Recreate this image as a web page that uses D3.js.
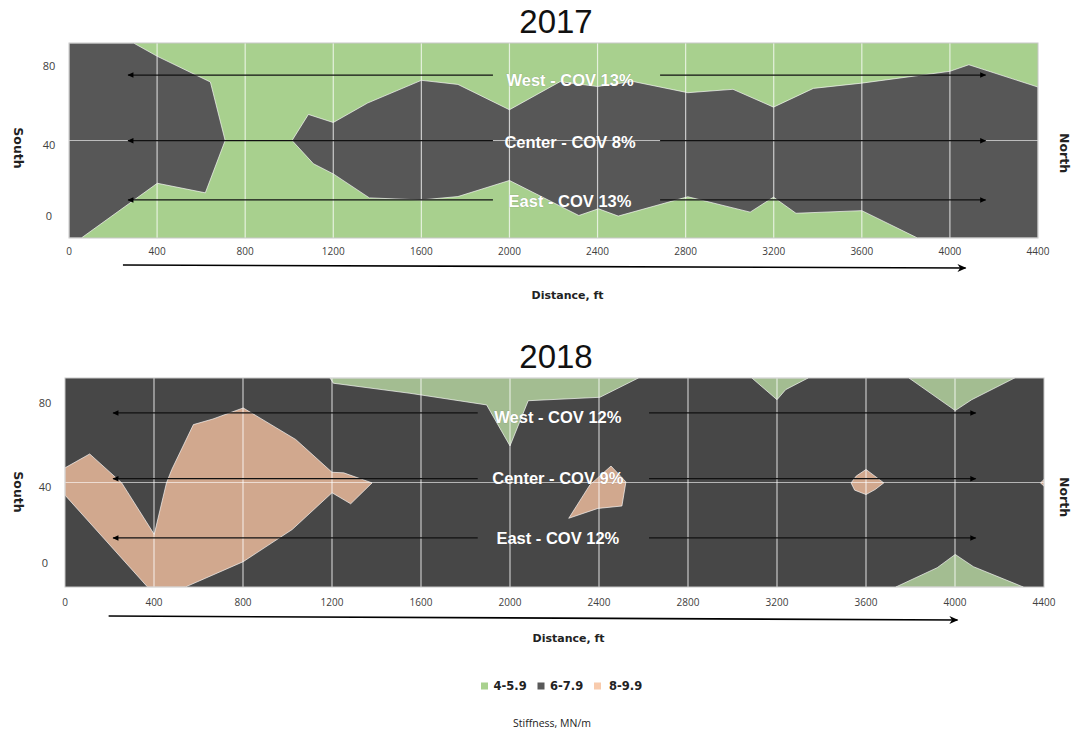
<!DOCTYPE html>
<html>
<head>
<meta charset="utf-8">
<script src="https://cdn.jsdelivr.net/npm/d3@7"></script>
<style>
  body { margin: 0; background: #fff; }
  text { font-family: "Open Sans", sans-serif; }
</style>
</head>
<body>
<svg id="chart" width="1078" height="732"></svg>
<script>
// --- data (distance in ft, transverse position in chart units) ---
var xTicks = [0, 400, 800, 1200, 1600, 2000, 2400, 2800, 3200, 3600, 4000, 4400];
var yTicks = [0, 40, 80];
var years = ['2017', '2018'];

var lanes2017 = ['West - COV 13%', 'Center - COV 8%', 'East - COV 13%'];
var lanes2018 = ['West - COV 12%', 'Center - COV 9%', 'East - COV 12%'];
var laneArrowY2017 = [74.9, 39.9, 8.3];
var laneArrowY2018 = [74.6, 41.9, 12.4];
var laneLabelY2017 = [72.3, 39.3, 7.9];
var laneLabelY2018 = [72.7, 42.2, 12.4];
var arrowLeft2017 = [1925, 268];
var arrowRight2017 = [2684, 4162];
var arrowLeft2018 = [1855, 216];
var arrowRight2018 = [2625, 4093];
var distArrow2017 = [245, 4071];
var distArrow2018 = [196, 4011];

var classes = ['4-5.9', '6-7.9', '8-9.9'];

// 2017: background class 4-5.9, zones of 6-7.9
var zones2017Mid = [
  [[0, 92], [293, 92], [401, 84.9], [642, 71.2], [709, 40], [619, 12.1], [401, 17.2], [56, -12], [0, -12]],
  [[1013, 40], [1087, 53.9], [1200, 49.6], [1356, 60], [1600, 72.1], [1766, 69.9], [2000, 56.4],
   [2230, 71.4], [2400, 68.8], [2560, 71.5], [2810, 65.5], [3015, 67.3], [3199, 57.8], [3380, 67.8],
   [3600, 70.6], [4000, 76.9], [4086, 80.4], [4400, 68.5], [4400, -12], [3853, -12], [3600, 2.6],
   [3301, 1.2], [3199, 9.8], [3093, 1.8], [2810, 10], [2494, -0.3], [2404, 3.6], [2315, 0],
   [2000, 18.7], [1766, 10.1], [1600, 8.3], [1364, 9.4], [1200, 22.2], [1110, 27.6]]
];

// 2018: background class 6-7.9, zones of 4-5.9 and 8-9.9
var zones2018Low = [
  [[1191, 92], [1206, 89.4], [1550, 84.4], [1895, 78.6], [2000, 58.2], [2082, 80.7], [2404, 82.4], [2577, 92]],
  [[3087, 92], [3200, 81.2], [3239, 86.2], [3340, 92]],
  [[3793, 92], [4001, 75.8], [4075, 81.2], [4268, 92]],
  [[3734, -12], [3920, -2.4], [4001, 4.2], [4083, -1.9], [4307, -12]]
];
var zones2018High = [
  [[0, 47.3], [111, 54.2], [255, 39.8], [401, 14.2], [456, 39.8], [480, 46.5], [577, 68.8], [665, 71.6],
   [801, 77.1], [1037, 61.4], [1200, 45.1], [1253, 44.8], [1380, 39.8], [1284, 29.4], [1200, 34.9],
   [1021, 16.6], [801, 0.6], [541, -12], [371, -12], [0, 33.7]],
  [[2264, 22.2], [2359, 38.8], [2454, 48.2], [2521, 40.3], [2503, 28.3], [2395, 27.1]],
  [[3600, 46.5], [3680, 39.8], [3641, 36.5], [3600, 34], [3549, 36.2], [3533, 39.8], [3556, 43.2]],
  [[4400, 41.5], [4384, 39.8], [4400, 38.2]]
];

var svg = d3.select('#chart');
var defs = svg.append('defs');

defs.append('marker').attr('id', 'head')
  .attr('viewBox', '0 0 10 10').attr('refX', 9).attr('refY', 5)
  .attr('markerWidth', 7).attr('markerHeight', 6).attr('markerUnits', 'userSpaceOnUse')
  .attr('orient', 'auto')
  .append('path').attr('d', 'M0,0.5L10,5L0,9.5Z').attr('fill', '#000');

defs.append('marker').attr('id', 'head2')
  .attr('viewBox', '0 0 10 10').attr('refX', 9).attr('refY', 5)
  .attr('markerWidth', 12).attr('markerHeight', 9).attr('markerUnits', 'userSpaceOnUse')
  .attr('orient', 'auto')
  .append('path').attr('d', 'M0,0.5L10,5L0,9.5L3,5Z').attr('fill', '#000');

var panels = [
  {
    year: years[0], left: 69, right: 1038, top: 43, bottom: 238, titleY: 33,
    bg: '#a8d08e',
    zones: zones2017Mid.map(function(p) { return {pts: p, color: '#575757'}; }),
    lanes: lanes2017, arrowY: laneArrowY2017, labelY: laneLabelY2017, labelX: 2275,
    arrowL: arrowLeft2017, arrowR: arrowRight2017, dist: distArrow2017,
    tickDy: 13, distDy: [27, 30], titleDy: 57, sideY: 148, yLabelX: 49
  },
  {
    year: years[1], left: 65, right: 1044, top: 378, bottom: 587, titleY: 368,
    bg: '#474747',
    zones: zones2018Low.map(function(p) { return {pts: p, color: '#a3bd91'}; })
      .concat(zones2018High.map(function(p) { return {pts: p, color: '#d1a88e'}; })),
    lanes: lanes2018, arrowY: laneArrowY2018, labelY: laneLabelY2018, labelX: 2215,
    arrowL: arrowLeft2018, arrowR: arrowRight2018, dist: distArrow2018,
    tickDy: 15, distDy: [29, 33], titleDy: 51, sideY: 492, yLabelX: 45
  }
];

panels.forEach(drawPanel);

function drawPanel(p, i) {
  var x = d3.scaleLinear().domain([0, 4400]).range([p.left, p.right]);
  var y = d3.scaleLinear().domain([-12, 92]).range([p.bottom, p.top]);
  var line = d3.line().x(function(d) { return x(d[0]); }).y(function(d) { return y(d[1]); })
    .curve(d3.curveLinearClosed);

  defs.append('clipPath').attr('id', 'clip' + i).append('rect')
    .attr('x', p.left).attr('y', p.top)
    .attr('width', p.right - p.left).attr('height', p.bottom - p.top);

  var plot = svg.append('g').attr('clip-path', 'url(#clip' + i + ')');
  plot.append('rect')
    .attr('x', p.left).attr('y', p.top)
    .attr('width', p.right - p.left).attr('height', p.bottom - p.top)
    .attr('fill', p.bg);

  plot.selectAll('path.zone').data(p.zones).join('path')
    .attr('class', 'zone')
    .attr('d', function(d) { return line(d.pts); })
    .attr('fill', function(d) { return d.color; })
    .attr('stroke', 'rgba(255,255,255,0.65)')
    .attr('stroke-width', 1)
    .attr('stroke-linejoin', 'round');

  // gridlines
  plot.selectAll('line.gx').data(xTicks.slice(1, -1)).join('line')
    .attr('class', 'gx')
    .attr('x1', function(d) { return x(d); }).attr('x2', function(d) { return x(d); })
    .attr('y1', p.top).attr('y2', p.bottom)
    .attr('stroke', 'rgba(255,255,255,0.7)').attr('stroke-width', 1.2);
  plot.append('line')
    .attr('x1', p.left).attr('x2', p.right)
    .attr('y1', y(40)).attr('y2', y(40))
    .attr('stroke', 'rgba(255,255,255,0.6)').attr('stroke-width', 1.2);

  svg.append('rect')
    .attr('x', p.left).attr('y', p.top)
    .attr('width', p.right - p.left).attr('height', p.bottom - p.top)
    .attr('fill', 'none').attr('stroke', '#c8c8c8').attr('stroke-width', 1);

  // lane arrows and labels
  var g = svg.append('g');
  g.selectAll('line.al').data(p.arrowY).join('line')
    .attr('x1', x(p.arrowL[0])).attr('x2', x(p.arrowL[1]))
    .attr('y1', function(d) { return y(d); }).attr('y2', function(d) { return y(d); })
    .attr('stroke', '#111').attr('stroke-width', 1.3)
    .attr('marker-end', 'url(#head)');
  g.selectAll('line.ar').data(p.arrowY).join('line')
    .attr('x1', x(p.arrowR[0])).attr('x2', x(p.arrowR[1]))
    .attr('y1', function(d) { return y(d); }).attr('y2', function(d) { return y(d); })
    .attr('stroke', '#111').attr('stroke-width', 1.3)
    .attr('marker-end', 'url(#head)');
  g.selectAll('text.lane').data(p.lanes).join('text')
    .attr('x', x(p.labelX))
    .attr('y', function(d, k) { return y(p.labelY[k]); })
    .attr('dy', '0.36em')
    .attr('text-anchor', 'middle')
    .style('font-family', '"Liberation Sans", Arial, sans-serif')
    .style('font-weight', 'bold').style('font-size', '16.5px')
    .attr('fill', '#fff')
    .attr('stroke', 'rgba(60,60,60,0.35)').attr('stroke-width', 0.6)
    .attr('paint-order', 'stroke')
    .text(function(d) { return d; });

  // axes
  var xAxis = svg.append('g').attr('transform', 'translate(0,' + (p.bottom + p.tickDy) + ')');
  xAxis.selectAll('text').data(xTicks).join('text')
    .attr('x', function(d) { return x(d); })
    .attr('dy', '0.35em')
    .attr('text-anchor', 'middle')
    .style('font-size', '10px').attr('fill', '#404040')
    .text(function(d) { return d; });

  svg.append('g').selectAll('text').data(yTicks).join('text')
    .attr('x', p.yLabelX)
    .attr('y', function(d) { return y(d); })
    .attr('dy', function(d) { return d === 40 ? '0.75em' : '0.4em'; })
    .attr('text-anchor', 'middle')
    .style('font-size', '11px').attr('fill', '#404040')
    .text(function(d) { return d; });

  svg.append('text')
    .attr('transform', 'translate(18,' + p.sideY + ') rotate(90)')
    .attr('text-anchor', 'middle').attr('dy', '0.35em')
    .style('font-family', '"DejaVu Sans", sans-serif')
    .style('font-weight', 'bold').style('font-size', '12.5px').attr('fill', '#222')
    .text('South');
  svg.append('text')
    .attr('transform', 'translate(1064,' + (p.sideY + 5) + ') rotate(90)')
    .attr('text-anchor', 'middle').attr('dy', '0.35em')
    .style('font-family', '"DejaVu Sans", sans-serif')
    .style('font-weight', 'bold').style('font-size', '12.5px').attr('fill', '#222')
    .text('North');

  // distance arrow and title
  svg.append('line')
    .attr('x1', x(p.dist[0])).attr('x2', x(p.dist[1]))
    .attr('y1', p.bottom + p.distDy[0]).attr('y2', p.bottom + p.distDy[1])
    .attr('stroke', '#000').attr('stroke-width', 1.6)
    .attr('marker-end', 'url(#head2)');
  svg.append('text')
    .attr('x', (p.left + p.right) / 2 + 14).attr('y', p.bottom + p.titleDy)
    .attr('dy', '0.35em').attr('text-anchor', 'middle')
    .style('font-family', '"DejaVu Sans", sans-serif')
    .style('font-weight', 'bold').style('font-size', '11px').attr('fill', '#222')
    .text('Distance, ft');

  svg.append('text')
    .attr('x', 556).attr('y', p.titleY)
    .attr('text-anchor', 'middle')
    .style('font-family', '"Liberation Sans", Arial, sans-serif')
    .style('font-size', '33px').attr('fill', '#111')
    .text(p.year);
}

// legend
var legendColors = ['#a9d18e', '#595959', '#f8cbad'];
var legend = svg.append('g').attr('transform', 'translate(481,686)');
var item = legend.selectAll('g').data(classes).join('g')
  .attr('transform', function(d, k) { return 'translate(' + (k * 56.5) + ',0)'; });
item.append('rect')
  .attr('x', 0).attr('y', -3.5).attr('width', 7).attr('height', 7)
  .attr('fill', function(d, k) { return legendColors[k]; });
item.append('text')
  .attr('x', function(d, k) { return k === 2 ? 15 : 12.5; }).attr('dy', '0.36em')
  .style('font-family', '"DejaVu Sans", sans-serif')
  .style('font-weight', 'bold').style('font-size', '11.5px').attr('fill', '#222')
  .text(function(d) { return d; });

svg.append('text')
  .attr('x', 552).attr('y', 723).attr('dy', '0.35em')
  .attr('text-anchor', 'middle')
  .style('font-size', '10.5px').attr('fill', '#222')
  .text('Stiffness, MN/m');
</script>
</body>
</html>
